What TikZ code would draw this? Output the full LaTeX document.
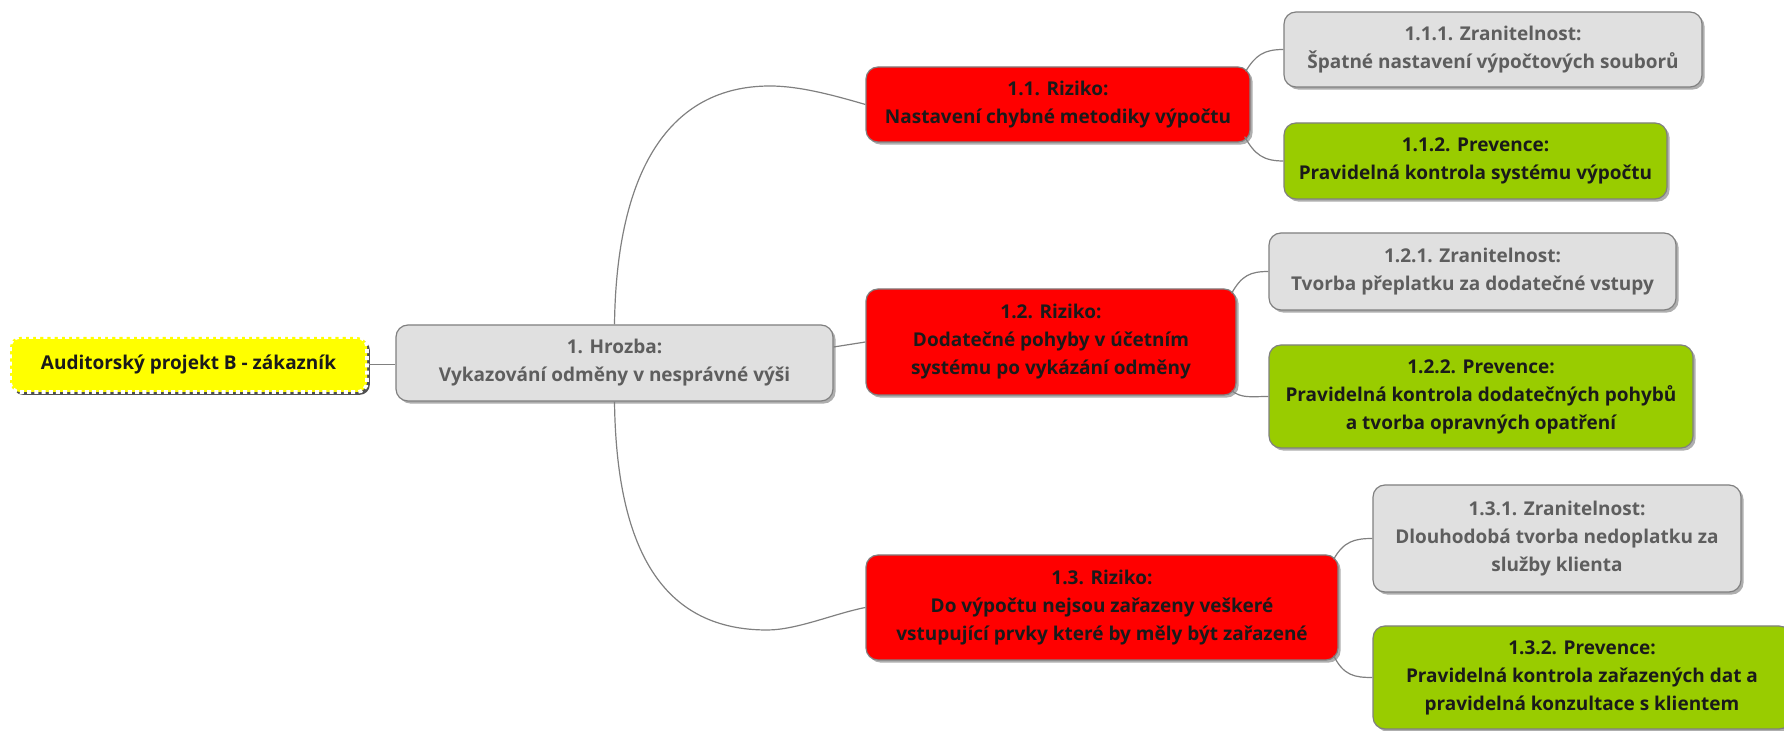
\documentclass[tikz,border=0pt]{standalone}
\usepackage{fontspec}
\setmainfont{Open Sans}
\usetikzlibrary{shadows,calc}
\definecolor{redbox}{HTML}{FF0000}
\definecolor{greenbox}{HTML}{99CC00}
\definecolor{graybox}{HTML}{E0E0E0}
\definecolor{grayline}{HTML}{808080}
\definecolor{graytext}{HTML}{5E5E5E}
\definecolor{darktext}{HTML}{1A1A1A}
\definecolor{yellowbox}{HTML}{FFFF00}
\tikzset{
  sz/.style 2 args={minimum width=#1*0.5pt, minimum height=#2*0.5pt},
  box/.style={rounded corners=6pt, draw=grayline, line width=0.6pt, align=center,
    font=\fontsize{9.5}{14}\selectfont\bfseries, inner sep=0pt,
    drop shadow={shadow xshift=1.3pt, shadow yshift=-1.3pt, opacity=0.45, fill=black!70}},
  redn/.style={box, fill=redbox, text=darktext},
  greenn/.style={box, fill=greenbox, text=darktext},
  grayn/.style={box, fill=graybox, text=graytext},
  rootn/.style={rounded corners=5pt, fill=yellowbox, draw=white, line width=1.8pt,
    dash pattern=on 2pt off 1.6pt, align=center, text=darktext,
    font=\fontsize{9.5}{14}\selectfont\bfseries, inner sep=0pt,
    drop shadow={shadow xshift=1.4pt, shadow yshift=-1.4pt, opacity=0.8, fill=black!85}},
  conn/.style={draw=grayline, line width=0.6pt},
}
\begin{document}
\begin{tikzpicture}[x=0.5pt, y=-0.5pt]
\useasboundingbox (0,0) rectangle (1784,731);
% nodes
\node[rootn, sz={357}{55}] (root) at (188.5,364.5) {Auditorský projekt B - zákazník};
\node[grayn, sz={437}{76}] (hz) at (614.5,363) {1. Hrozba:\\Vykazování odměny v nesprávné výši};
\node[redn, sz={384}{75}] (r11) at (1058,104.5) {1.1. Riziko:\\Nastavení chybné metodiky výpočtu};
\node[grayn, sz={418}{75}] (v111) at (1493,49.5) {1.1.1. Zranitelnost:\\Špatné nastavení výpočtových souborů};
\node[greenn, sz={383}{76}] (p112) at (1475.5,161) {1.1.2. Prevence:\\Pravidelná kontrola systému výpočtu};
\node[redn, sz={370}{106}] (r12) at (1051,342) {1.2. Riziko:\\Dodatečné pohyby v účetním\\systému po vykázání odměny};
\node[grayn, sz={407}{77}] (v121) at (1472.5,271.5) {1.2.1. Zranitelnost:\\Tvorba přeplatku za dodatečné vstupy};
\node[greenn, sz={424}{103}] (p122) at (1481,396.5) {1.2.2. Prevence:\\Pravidelná kontrola dodatečných pohybů\\a tvorba opravných opatření};
\node[redn, sz={472}{105}] (r13) at (1102,607.5) {1.3. Riziko:\\Do výpočtu nejsou zařazeny veškeré\\vstupující prvky které by měly být zařazené};
\node[grayn, sz={368}{107}] (v131) at (1557,538.5) {1.3.1. Zranitelnost:\\Dlouhodobá tvorba nedoplatku za\\služby klienta};
\node[greenn, sz={418}{103}] (p132) at (1582,677.5) {1.3.2. Prevence:\\Pravidelná kontrola zařazených dat a\\pravidelná konzultace s klientem};
% waypoints
\coordinate (top1) at (770,86);
\coordinate (bot3) at (767,630);
% connectors
\draw[conn] (root.east) -- (root.east -| hz.west);
\draw[conn] ([yshift=8pt]hz.east) -- (r12.west);
\draw[conn] (hz.north) .. controls +(2,-155) and +(-100,0) .. (top1)
  .. controls +(30,0) and +(-31,-9) .. (r11.west);
\draw[conn] (hz.south) .. controls +(2,155) and +(-100,0) .. (bot3)
  .. controls +(30,0) and +(-31,6) .. (r13.west);
\draw[conn] ([shift={(-5,5)}]r11.north east) .. controls +(10,-16) and +(-20,0) .. (v111.west);
\draw[conn] ([shift={(-6,-6)}]r11.south east) .. controls +(10,18) and +(-20,0) .. (p112.west);
\draw[conn] ([shift={(-5,5)}]r12.north east) .. controls +(10,-18) and +(-18,0) .. (v121.west);
\draw[conn] ([shift={(-5,-5)}]r12.south east) .. controls +(10,8) and +(-18,0) .. (p122.west);
\draw[conn] ([shift={(-5,5)}]r13.north east) .. controls +(10,-18) and +(-18,0) .. (v131.west);
\draw[conn] ([shift={(-5,-5)}]r13.south east) .. controls +(10,20) and +(-18,0) .. (p132.west);
\end{tikzpicture}
\end{document}
